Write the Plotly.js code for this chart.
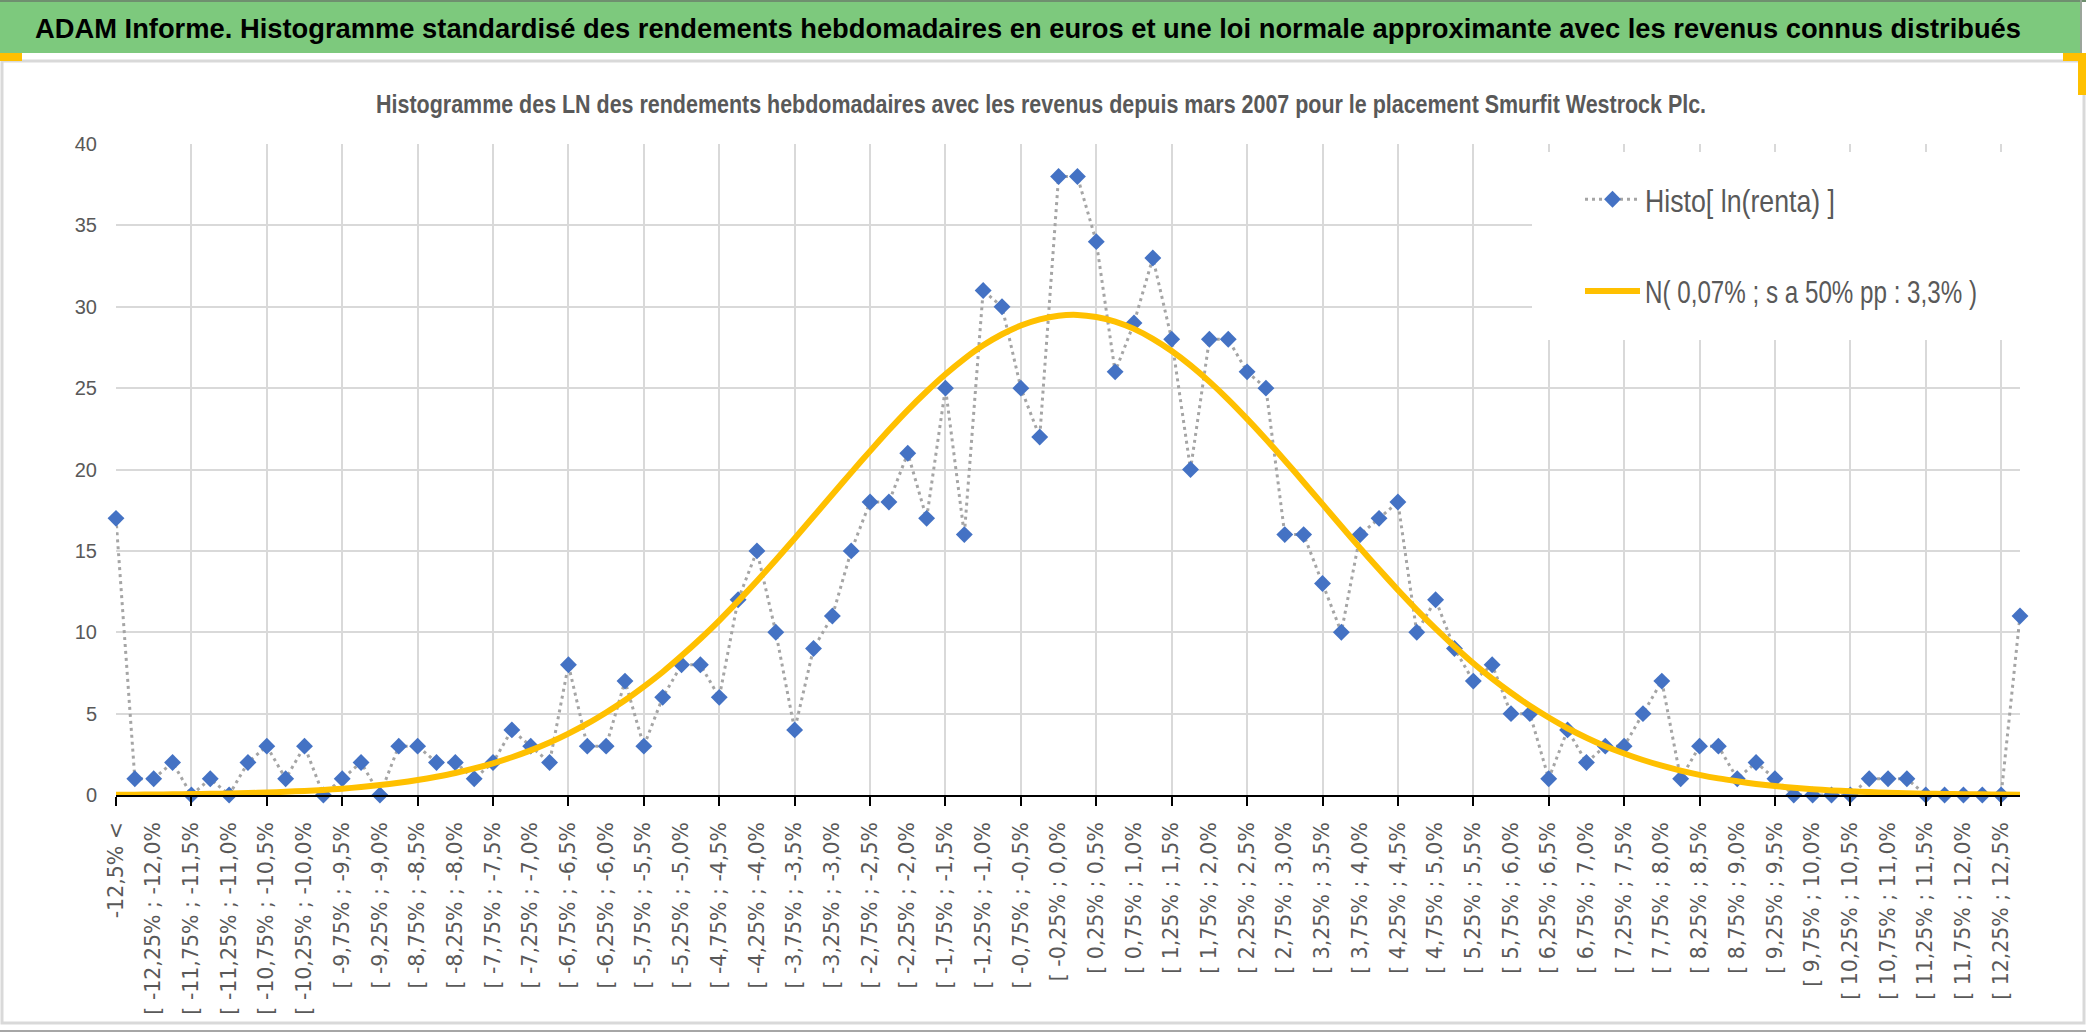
<!DOCTYPE html>
<html>
<head>
<meta charset="utf-8">
<script src="https://cdn.plot.ly/plotly-3.0.1.min.js"></script>
<style>
  html, body { margin:0; padding:0; background:#ffffff; }
  #chart { width:2086px; height:1033px; }
</style>
</head>
<body>
<div id="chart"></div>
<script>
// ---------- DATA ----------
const categories = [
  "-12,5% <",
  "[ -12,5% ; -12,25%", "[ -12,25% ; -12,0%", "[ -12,0% ; -11,75%", "[ -11,75% ; -11,5%",
  "[ -11,5% ; -11,25%", "[ -11,25% ; -11,0%", "[ -11,0% ; -10,75%", "[ -10,75% ; -10,5%",
  "[ -10,5% ; -10,25%", "[ -10,25% ; -10,0%", "[ -10,0% ; -9,75%", "[ -9,75% ; -9,5%",
  "[ -9,5% ; -9,25%", "[ -9,25% ; -9,0%", "[ -9,0% ; -8,75%", "[ -8,75% ; -8,5%",
  "[ -8,5% ; -8,25%", "[ -8,25% ; -8,0%", "[ -8,0% ; -7,75%", "[ -7,75% ; -7,5%",
  "[ -7,5% ; -7,25%", "[ -7,25% ; -7,0%", "[ -7,0% ; -6,75%", "[ -6,75% ; -6,5%",
  "[ -6,5% ; -6,25%", "[ -6,25% ; -6,0%", "[ -6,0% ; -5,75%", "[ -5,75% ; -5,5%",
  "[ -5,5% ; -5,25%", "[ -5,25% ; -5,0%", "[ -5,0% ; -4,75%", "[ -4,75% ; -4,5%",
  "[ -4,5% ; -4,25%", "[ -4,25% ; -4,0%", "[ -4,0% ; -3,75%", "[ -3,75% ; -3,5%",
  "[ -3,5% ; -3,25%", "[ -3,25% ; -3,0%", "[ -3,0% ; -2,75%", "[ -2,75% ; -2,5%",
  "[ -2,5% ; -2,25%", "[ -2,25% ; -2,0%", "[ -2,0% ; -1,75%", "[ -1,75% ; -1,5%",
  "[ -1,5% ; -1,25%", "[ -1,25% ; -1,0%", "[ -1,0% ; -0,75%", "[ -0,75% ; -0,5%",
  "[ -0,5% ; -0,25%", "[ -0,25% ; 0,0%", "[ 0,0% ; 0,25%", "[ 0,25% ; 0,5%",
  "[ 0,5% ; 0,75%", "[ 0,75% ; 1,0%", "[ 1,0% ; 1,25%", "[ 1,25% ; 1,5%",
  "[ 1,5% ; 1,75%", "[ 1,75% ; 2,0%", "[ 2,0% ; 2,25%", "[ 2,25% ; 2,5%",
  "[ 2,5% ; 2,75%", "[ 2,75% ; 3,0%", "[ 3,0% ; 3,25%", "[ 3,25% ; 3,5%",
  "[ 3,5% ; 3,75%", "[ 3,75% ; 4,0%", "[ 4,0% ; 4,25%", "[ 4,25% ; 4,5%",
  "[ 4,5% ; 4,75%", "[ 4,75% ; 5,0%", "[ 5,0% ; 5,25%", "[ 5,25% ; 5,5%",
  "[ 5,5% ; 5,75%", "[ 5,75% ; 6,0%", "[ 6,0% ; 6,25%", "[ 6,25% ; 6,5%",
  "[ 6,5% ; 6,75%", "[ 6,75% ; 7,0%", "[ 7,0% ; 7,25%", "[ 7,25% ; 7,5%",
  "[ 7,5% ; 7,75%", "[ 7,75% ; 8,0%", "[ 8,0% ; 8,25%", "[ 8,25% ; 8,5%",
  "[ 8,5% ; 8,75%", "[ 8,75% ; 9,0%", "[ 9,0% ; 9,25%", "[ 9,25% ; 9,5%",
  "[ 9,5% ; 9,75%", "[ 9,75% ; 10,0%", "[ 10,0% ; 10,25%", "[ 10,25% ; 10,5%",
  "[ 10,5% ; 10,75%", "[ 10,75% ; 11,0%", "[ 11,0% ; 11,25%", "[ 11,25% ; 11,5%",
  "[ 11,5% ; 11,75%", "[ 11,75% ; 12,0%", "[ 12,0% ; 12,25%", "[ 12,25% ; 12,5%",
  "> 12,5%"
];

const histoValues = [
  17, 1, 1, 2, 0, 1, 0, 2, 3, 1,
  3, 0, 1, 2, 0, 3, 3, 2, 2, 1,
  2, 4, 3, 2, 8, 3, 3, 7, 3, 6,
  8, 8, 6, 12, 15, 10, 4, 9, 11, 15,
  18, 18, 21, 17, 25, 16, 31, 30, 25, 22,
  38, 38, 34, 26, 29, 33, 28, 20, 28, 28,
  26, 25, 16, 16, 13, 10, 16, 17, 18, 10,
  12, 9, 7, 8, 5, 5, 1, 4, 2, 3,
  3, 5, 7, 1, 3, 3, 1, 2, 1, 0,
  0, 0, 0, 1, 1, 1, 0, 0, 0, 0,
  0, 11
];

const normalValues = [
  0.02, 0.02, 0.03, 0.04, 0.06, 0.07, 0.09, 0.12, 0.15, 0.2,
  0.25, 0.31, 0.39, 0.49, 0.61, 0.75, 0.92, 1.12, 1.35, 1.63,
  1.95, 2.32, 2.74, 3.22, 3.77, 4.38, 5.07, 5.82, 6.66, 7.56,
  8.55, 9.6, 10.72, 11.91, 13.15, 14.44, 15.76, 17.11, 18.46, 19.81,
  21.13, 22.42, 23.65, 24.79, 25.85, 26.8, 27.63, 28.31, 28.85, 29.23,
  29.45, 29.5, 29.37, 29.09, 28.64, 28.03, 27.28, 26.4, 25.4, 24.3,
  23.11, 21.86, 20.56, 19.22, 17.87, 16.51, 15.17, 13.87, 12.6, 11.38,
  10.22, 9.13, 8.1, 7.15, 6.28, 5.48, 4.76, 4.1, 3.52, 3.0,
  2.55, 2.15, 1.8, 1.5, 1.24, 1.02, 0.84, 0.68, 0.55, 0.45,
  0.36, 0.28, 0.23, 0.18, 0.14, 0.11, 0.08, 0.06, 0.05, 0.04,
  0.03, 0.02
];

const seriesNames = ["Histo[ ln(renta) ]", "N( 0,07% ; s a 50% pp : 3,3% )"];
const mainTitle = "ADAM Informe. Histogramme standardisé des rendements hebdomadaires en euros et une loi normale approximante avec les revenus connus distribués";
const subTitle = "Histogramme des LN des rendements hebdomadaires avec les revenus depuis mars 2007 pour le placement Smurfit Westrock Plc.";

// ---------- LAYOUT HELPERS ----------
const W = 2086, H = 1033;
const M = { l: 116, r: 66, t: 144, b: 238, autoexpand: false };
const PW = W - M.l - M.r, PH = H - M.t - M.b;
const px = x => (x - M.l) / PW;
const py = y => (H - M.b - y) / PH;

const SANS = "'Liberation Sans', Arial, sans-serif";
const WIDE = "'DejaVu Sans', Verdana, sans-serif";
const GRAY = "#595959";
const GRID = "#D9D9D9";

const traces = [
  {
    x: categories, y: histoValues, name: seriesNames[0],
    type: "scatter", mode: "lines+markers",
    line: { color: "#A5A5A5", width: 3, dash: "3px,4px" },
    marker: { symbol: "diamond", size: 13, color: "#4472C4" },
    cliponaxis: false, legendgroup: "a", hoverinfo: "x+y"
  },
  {
    x: categories, y: normalValues, name: seriesNames[1],
    type: "scatter", mode: "lines",
    line: { color: "#FFC000", width: 6, shape: "spline", smoothing: 0.6 },
    cliponaxis: false, legendgroup: "b", hoverinfo: "x+y"
  },
  {
    x: categories, y: histoValues, xaxis: "x2", yaxis: "y",
    type: "scatter", mode: "markers", marker: { opacity: 0, size: 1 },
    showlegend: false, hoverinfo: "skip"
  }
];

const shapes = [
  { type: "rect", xref: "paper", yref: "paper", x0: px(0), x1: px(2080), y0: py(0), y1: py(53),
    fillcolor: "#7DC97D", line: { width: 0 }, layer: "below" },
  { type: "line", xref: "paper", yref: "paper", x0: px(0), x1: px(W), y0: py(1), y1: py(1),
    line: { color: "#6F8F6F", width: 2 }, layer: "below" },
  { type: "line", xref: "paper", yref: "paper", x0: px(2081), x1: px(2081), y0: py(0), y1: py(53),
    line: { color: "#9AA59A", width: 2 }, layer: "below" },
  { type: "rect", xref: "paper", yref: "paper", x0: px(2), x1: px(W - 2), y0: py(61), y1: py(1023),
    fillcolor: "rgba(0,0,0,0)", line: { color: GRID, width: 3 }, layer: "below" },
  { type: "line", xref: "paper", yref: "paper", x0: px(0), x1: px(W), y0: py(1031), y1: py(1031),
    line: { color: "#A6A6A6", width: 2 }, layer: "below" },
  { type: "rect", xref: "paper", yref: "paper", x0: px(0), x1: px(22), y0: py(53), y1: py(61),
    fillcolor: "#FFC000", line: { width: 0 }, layer: "below" },
  { type: "rect", xref: "paper", yref: "paper", x0: px(2063), x1: px(W), y0: py(53), y1: py(61),
    fillcolor: "#FFC000", line: { width: 0 }, layer: "below" },
  { type: "rect", xref: "paper", yref: "paper", x0: px(2078), x1: px(W), y0: py(53), y1: py(95),
    fillcolor: "#FFC000", line: { width: 0 }, layer: "below" },
  { type: "rect", xref: "paper", yref: "paper", x0: px(1532), x1: px(2020), y0: py(152), y1: py(340),
    fillcolor: "#FFFFFF", line: { width: 0 }, layer: "above" }
];

const layout = {
  width: W, height: H,
  margin: M,
  paper_bgcolor: "#FFFFFF", plot_bgcolor: "#FFFFFF",
  font: { family: SANS, color: GRAY },
  title: {
    text: mainTitle,
    font: { family: SANS, size: 27.5, color: "#000000", weight: 700 },
    xref: "container", yref: "container",
    x: 35 / W, xanchor: "left", y: 1 - 28 / H, yanchor: "middle"
  },
  annotations: [
    { text: subTitle, xref: "paper", yref: "paper", x: px(1041), y: py(104),
      xanchor: "center", yanchor: "middle", showarrow: false,
      font: { family: SANS, size: 25, color: GRAY, weight: 700 } }
  ],
  showlegend: true,
  legend: {
    x: px(1580), y: py(172), xanchor: "left", yanchor: "top",
    bgcolor: "rgba(0,0,0,0)", borderwidth: 0,
    font: { family: SANS, size: 32, color: GRAY },
    itemwidth: 55, tracegroupgap: 47, traceorder: "grouped"
  },
  xaxis: {
    type: "category", range: [0, 101],
    tickmode: "linear", tick0: 0, dtick: 4,
    showticklabels: false,
    ticks: "outside", ticklen: 9, tickwidth: 2, tickcolor: "#000000",
    showgrid: true, gridcolor: GRID, gridwidth: 2,
    showline: true, linecolor: "#000000", linewidth: 2,
    zeroline: false, fixedrange: true
  },
  xaxis2: {
    type: "category", range: [0, 101], overlaying: "x", anchor: "y", side: "bottom",
    tickmode: "linear", tick0: 0, dtick: 2,
    tickangle: -90, ticks: "", ticklabelstandoff: 22,
    tickfont: { family: WIDE, size: 20.5, color: GRAY },
    showgrid: false, showline: false, zeroline: false, fixedrange: true
  },
  yaxis: {
    range: [0, 40], tickmode: "linear", tick0: 0, dtick: 5,
    ticks: "", ticklabelstandoff: 18,
    tickfont: { family: SANS, size: 20, color: GRAY },
    showgrid: true, gridcolor: GRID, gridwidth: 2,
    showline: false, zeroline: false, fixedrange: true
  },
  shapes: shapes,
  hovermode: "closest"
};

// condensed rendering of horizontal texts (the reference uses a narrow typeface)
function condense(el, len) {
  if (!el) return;
  el.setAttribute("textLength", len);
  el.setAttribute("lengthAdjust", "spacingAndGlyphs");
}

Plotly.newPlot("chart", traces, layout, { displayModeBar: false, responsive: false, staticPlot: true })
  .then(gd => {
    condense(gd.querySelector(".g-gtitle .gtitle"), 1986);
    condense(gd.querySelector(".annotation-text"), 1330);
    const lt = gd.querySelectorAll(".legendtext");
    condense(lt[0], 190);
    condense(lt[1], 332);
  });
</script>
</body>
</html>
